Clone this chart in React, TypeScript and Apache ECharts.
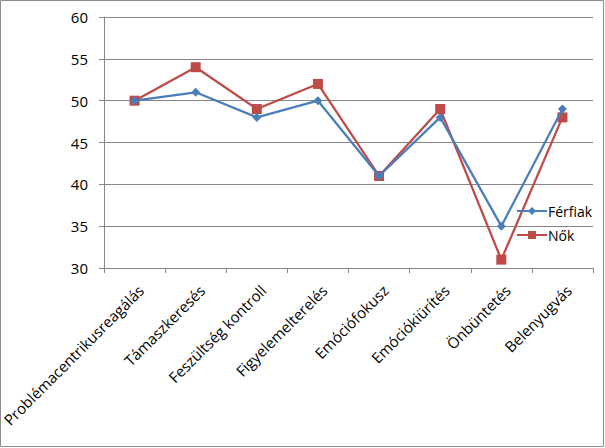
import React, { useEffect, useRef } from "react";
import * as echarts from "echarts";

const categories = [
  "Problémacentrikusreagálás",
  "Támaszkeresés",
  "Feszültség kontroll",
  "Figyelemelterelés",
  "Emóciófokusz",
  "Emóciókiürítés",
  "Önbüntetés",
  "Belenyugvás",
];
const ferfiak = [50, 51, 48, 50, 41, 48, 35, 49];
const nok = [50, 54, 49, 52, 41, 49, 31, 48];
const yMin = 30;
const yMax = 60;
const yStep = 5;

const FONT = "Open Sans";

export default function App() {
  const ref = useRef<HTMLDivElement>(null);
  useEffect(() => {
    const chart = echarts.init(ref.current!, undefined, { renderer: "svg" });
    chart.setOption({
      animation: false,
      backgroundColor: "#ffffff",
      grid: {
        left: 104,
        right: 12,
        top: 17,
        bottom: 180,
        containLabel: false,
        outerBoundsMode: "none",
      },
      graphic: [
        {
          type: "rect",
          shape: { x: 0.5, y: 0.5, width: 603, height: 446 },
          style: { fill: "none", stroke: "#8c8c8c", lineWidth: 1 },
          silent: true,
        },
      ],
      legend: {
        orient: "vertical",
        left: 511,
        top: 199,
        itemWidth: 30,
        itemHeight: 10,
        itemGap: 10,
        textStyle: { fontFamily: FONT, fontSize: 14, color: "#000", padding: [0, 0, 0, -4] },
        data: ["Férfiak", "Nők"],
      },
      xAxis: {
        type: "category",
        data: categories,
        boundaryGap: true,
        axisLine: { lineStyle: { color: "#868686", width: 1 } },
        axisTick: { show: true, length: 5, lineStyle: { color: "#868686" } },
        axisLabel: {
          rotate: 45,
          interval: 0,
          margin: 26,
          padding: [0, -9, 0, 0],
          fontFamily: FONT,
          fontSize: 15,
          color: "#000",
        },
      },
      yAxis: {
        type: "value",
        min: yMin,
        max: yMax,
        interval: yStep,
        axisLine: { show: true, lineStyle: { color: "#868686", width: 1 } },
        axisTick: { show: true, length: 5, lineStyle: { color: "#868686" } },
        axisLabel: { fontFamily: FONT, fontSize: 15, color: "#000", margin: 16 },
        splitLine: { lineStyle: { color: "#868686", width: 1 } },
      },
      series: [
        {
          name: "Férfiak",
          type: "line",
          data: ferfiak,
          symbol: "diamond",
          symbolSize: 9,
          lineStyle: { color: "#4a7ebb", width: 2.25 },
          itemStyle: { color: "#4a7ebb" },
          z: 3,
        },
        {
          name: "Nők",
          type: "line",
          data: nok,
          symbol: "rect",
          symbolSize: 10,
          lineStyle: { color: "#be4b48", width: 2.25 },
          itemStyle: { color: "#be4b48" },
          z: 2,
        },
      ],
    });
    return () => chart.dispose();
  }, []);
  return (
    <div
      ref={ref}
      style={{ position: "fixed", left: 0, top: 0, width: 605, height: 448 }}
    />
  );
}
